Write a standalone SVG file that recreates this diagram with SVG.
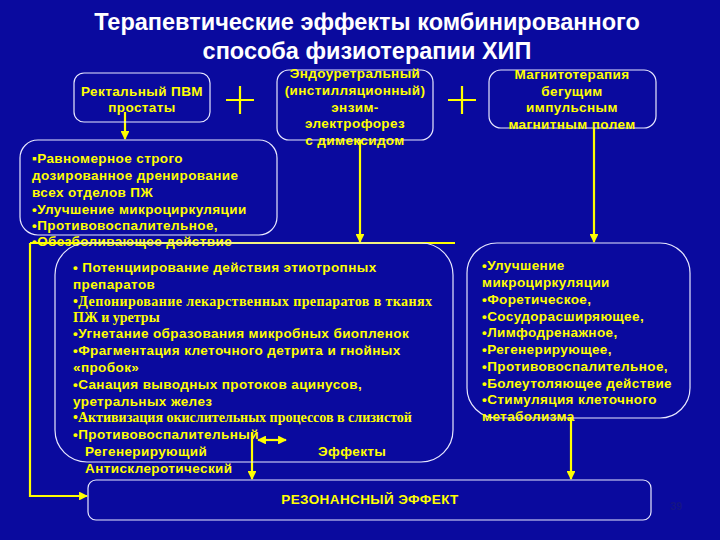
<svg xmlns="http://www.w3.org/2000/svg" width="720" height="540" viewBox="0 0 720 540">
<defs>
<style>
.b{fill:none;stroke:#e8e8ff;stroke-width:1.2}
.t{font-family:"Liberation Sans",Arial,sans-serif;font-weight:bold;font-size:13.5px;letter-spacing:0.4px;fill:#ffff00}
.s{font-family:"Liberation Serif","Times New Roman",serif;font-weight:bold;font-size:14px;fill:#ffff00}
.c{stroke:#ffff00;stroke-width:2.2;fill:none}
.h{font-family:"Liberation Sans",Arial,sans-serif;font-weight:bold;font-size:23.5px;fill:#ffffff}
.m{text-anchor:middle}
</style>
<marker id="a" viewBox="0 0 10 10" refX="9" refY="5" markerWidth="4" markerHeight="4" orient="auto-start-reverse"><path d="M0,0 L10,5 L0,10 z" fill="#ffff00"/></marker>
</defs>
<rect width="720" height="540" fill="#0a0a9e"/>
<g id="title"><text class="h m" x="367" y="30">Терапевтические эффекты комбинированного</text><text class="h m" x="367" y="59">способа физиотерапии ХИП</text></g>
<g id="connectors">
<line class="c" x1="125" y1="112" x2="125" y2="139" marker-end="url(#a)"/>
<line class="c" x1="360" y1="140" x2="360" y2="242" marker-end="url(#a)"/>
<line class="c" x1="594" y1="128" x2="594" y2="242" marker-end="url(#a)"/>
<polyline class="c" points="30,243 30,496 87,496" marker-end="url(#a)"/>
<line class="c" x1="30" y1="243" x2="455" y2="243"/>
<line class="c" x1="258" y1="440" x2="286" y2="440" marker-start="url(#a)" marker-end="url(#a)"/>
<line class="c" x1="252" y1="432" x2="252" y2="479" marker-end="url(#a)"/>
<line class="c" x1="571" y1="418" x2="571" y2="479" marker-end="url(#a)"/>
<path class="c" d="M240,86 V114 M226,100 H254 M462,86 V114 M448,100 H476" stroke-width="3.5"/>
</g>
<g id="n1"><rect class="b" x="74" y="73" width="136" height="49" rx="10"/><text class="t m" x="142" y="96">Ректальный ПВМ</text><text class="t m" x="142" y="112">простаты</text></g>
<g id="n2"><rect class="b" x="277" y="70" width="156" height="70" rx="12"/>
<text class="t m" x="355" y="78">Эндоуретральный</text><text class="t m" x="355" y="95">(инстилляционный)</text><text class="t m" x="355" y="112">энзим-</text><text class="t m" x="355" y="128">электрофорез</text><text class="t m" x="355" y="145">с димексидом</text></g>
<g id="n3"><rect class="b" x="489" y="70" width="167" height="58" rx="12"/>
<text class="t m" x="572" y="79">Магнитотерапия</text><text class="t m" x="572" y="96">бегущим</text><text class="t m" x="572" y="112">импульсным</text><text class="t m" x="572" y="129">магнитным полем</text></g>
<g id="n4"><rect class="b" x="20" y="140" width="257" height="95" rx="18"/>
<text class="t" x="32" y="163">▪Равномерное строго</text><text class="t" x="32" y="180">дозированное дренирование</text><text class="t" x="32" y="197">всех отделов ПЖ</text><text class="t" x="32" y="214">•Улучшение  микроциркуляции</text><text class="t" x="32" y="230">•Противовоспалительное,</text><text class="t" x="32" y="246">•Обезболивающее действие</text></g>
<g id="n5"><rect class="b" x="55" y="243" width="398" height="219" rx="32"/>
<text class="t" x="73" y="272">• Потенциирование действия этиотропных</text><text class="t" x="73" y="289">препаратов</text>
<text class="s" x="73" y="306" textLength="359">•Депонирование лекарственных препаратов  в     тканях</text><text class="s" x="73" y="322">ПЖ и уретры</text>
<text class="t" x="73" y="338">•Угнетание образования микробных биопленок</text><text class="t" x="73" y="355">•Фрагментация клеточного детрита и гнойных</text><text class="t" x="73" y="372">«пробок»</text>
<text class="t" x="73" y="389">•Санация выводных протоков ацинусов,</text><text class="t" x="73" y="406">уретральных желез</text>
<text class="s" x="73" y="422">•Активизация окислительных процессов в слизистой</text>
<text class="t" x="73" y="439">•Противовоспалительный</text><text class="t" x="85" y="456">Регенерирующий</text><text class="t" x="318" y="456">Эффекты</text><text class="t" x="85" y="473">Антисклеротический</text></g>
<g id="n6"><rect class="b" x="467" y="243" width="223" height="175" rx="30"/>
<text class="t" x="482" y="270">•Улучшение</text><text class="t" x="482" y="287">микроциркуляции</text><text class="t" x="482" y="304">•Форетическое,</text><text class="t" x="482" y="321">•Сосудорасширяющее,</text><text class="t" x="482" y="337">•Лимфодренажное,</text><text class="t" x="482" y="354">•Регенерирующее,</text><text class="t" x="482" y="371">•Противовоспалительное,</text><text class="t" x="482" y="388">•Болеутоляющее  действие</text><text class="t" x="482" y="404">•Стимуляция клеточного</text><text class="t" x="482" y="421">метаболизма</text></g>
<g id="n7"><rect class="b" x="88" y="480" width="563" height="40" rx="8"/><text class="t m" x="370" y="504">РЕЗОНАНСНЫЙ ЭФФЕКТ</text></g>
<text x="670" y="510" font-family="Liberation Sans,Arial,sans-serif" font-size="11" fill="#151585" font-weight="bold">39</text>
</svg>
